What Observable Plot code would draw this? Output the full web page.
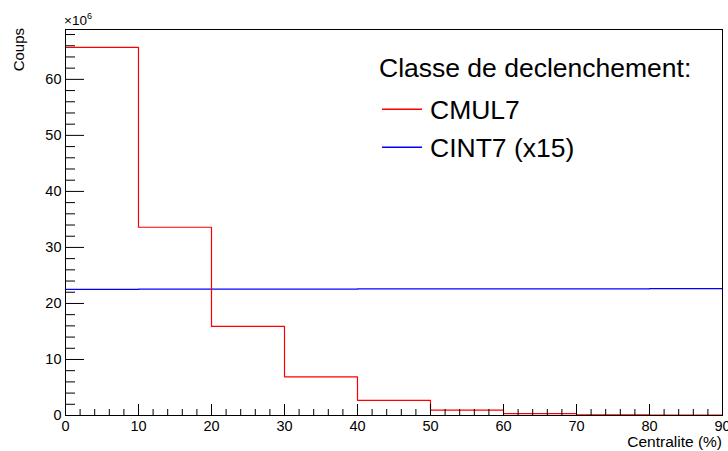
<!DOCTYPE html>
<html>
<head>
<meta charset="utf-8">
<script src="https://cdn.jsdelivr.net/npm/d3@7"></script>
<script src="https://cdn.jsdelivr.net/npm/@observablehq/plot@0.6"></script>
<style>
  html, body { margin: 0; padding: 0; background: #fff; }
  #wrap { position: relative; width: 728px; height: 451px; font-family: "Liberation Sans", Arial, sans-serif; color: #000; }
  .ov { position: absolute; white-space: nowrap; line-height: 1; }
  #wrap svg g[aria-label$="tick label"] text { font-size: 14.5px; }
</style>
</head>
<body>
<div id="wrap"></div>
<script>
// Bin edges (centrality %), values in units of 10^6 counts
const binEdges = [0, 10, 20, 30, 40, 50, 60, 70, 80, 90];
const cmul7 = [65.7, 33.6, 15.9, 6.9, 2.7, 0.95, 0.32, 0.12, 0.05];
const cint7x15 = [22.5, 22.55, 22.55, 22.55, 22.6, 22.6, 22.6, 22.6, 22.65];
const xMajorTicks = [0, 10, 20, 30, 40, 50, 60, 70, 80, 90];
const yMajorTicks = [0, 10, 20, 30, 40, 50, 60];
const seriesNames = ["CMUL7", "CINT7 (x15)"];
const seriesColors = ["#ff0000", "#0000ff"];
const legendTitle = "Classe de declenchement:";

function stepData(vals) {
  const pts = vals.map((v, i) => ({x: binEdges[i], y: v}));
  pts.push({x: binEdges[binEdges.length - 1], y: vals[vals.length - 1]});
  return pts;
}
const xMinor = d3.range(0, 91, 2).filter(d => d % 10 !== 0);
const yMinor = d3.range(0, 69, 2).filter(d => d % 10 !== 0);

const chart = Plot.plot({
  width: 728,
  height: 451,
  marginLeft: 65,
  marginRight: 6,
  marginTop: 29,
  marginBottom: 36,
  style: {fontFamily: "Liberation Sans, Arial, sans-serif", fontSize: "14px", background: "#fff", color: "#000"},
  x: {domain: [0, 90]},
  y: {domain: [0, 68.9]},
  marks: [
    Plot.line(stepData(cint7x15), {x: "x", y: "y", stroke: seriesColors[1], strokeWidth: 1.2, curve: "step-after"}),
    Plot.line(stepData(cmul7), {x: "x", y: "y", stroke: seriesColors[0], strokeWidth: 1.2, curve: "step-after"}),
    Plot.axisX(xMajorTicks, {tickSize: -11, tickFormat: () => "", label: null, stroke: "#000"}),
    Plot.axisX(xMinor, {tickSize: -6, tickFormat: () => "", label: null, stroke: "#000"}),
    Plot.axisX(xMajorTicks, {tickSize: 0, tickPadding: 5, label: null}),
    Plot.axisY(yMajorTicks, {tickSize: -19, tickFormat: () => "", label: null, stroke: "#000"}),
    Plot.axisY(yMinor, {tickSize: -10, tickFormat: () => "", label: null, stroke: "#000"}),
    Plot.axisY(yMajorTicks, {tickSize: 0, tickPadding: 4, label: null}),
    Plot.frame({stroke: "#000", strokeWidth: 1})
  ]
});
const wrap = document.getElementById("wrap");
wrap.appendChild(chart);

function addText(html, css) {
  const d = document.createElement("div");
  d.className = "ov";
  d.innerHTML = html;
  Object.assign(d.style, css);
  wrap.appendChild(d);
  return d;
}
// y-axis multiplier and titles
addText("&times;10<sup style=\"font-size:9px;vertical-align:6px\">6</sup>", {left: "64px", top: "12px", fontSize: "13.5px"});
addText("Coups", {left: "0px", top: "0px", fontSize: "15px", lineHeight: "16px",
  transformOrigin: "0 0", transform: "translate(11px, 28px) rotate(-90deg) translateX(-100%)"});
addText("Centralite (%)", {right: "6px", top: "434px", fontSize: "15.5px"});

// legend
addText(legendTitle, {left: "379px", top: "55px", fontSize: "26.5px"});
const ns = "http://www.w3.org/2000/svg";
const lsvg = document.createElementNS(ns, "svg");
lsvg.setAttribute("width", "728");
lsvg.setAttribute("height", "451");
Object.assign(lsvg.style, {position: "absolute", left: "0", top: "0", pointerEvents: "none"});
wrap.appendChild(lsvg);
seriesNames.forEach((name, i) => {
  const top = 97 + i * 38;
  const ln = document.createElementNS(ns, "line");
  ln.setAttribute("x1", 382); ln.setAttribute("x2", 422);
  ln.setAttribute("y1", top + 12.2); ln.setAttribute("y2", top + 12.2);
  ln.setAttribute("stroke", seriesColors[i]);
  ln.setAttribute("stroke-width", 1.4);
  lsvg.appendChild(ln);
  addText(name, {left: "430px", top: top + "px", fontSize: "26.5px"});
});
</script>
</body>
</html>
